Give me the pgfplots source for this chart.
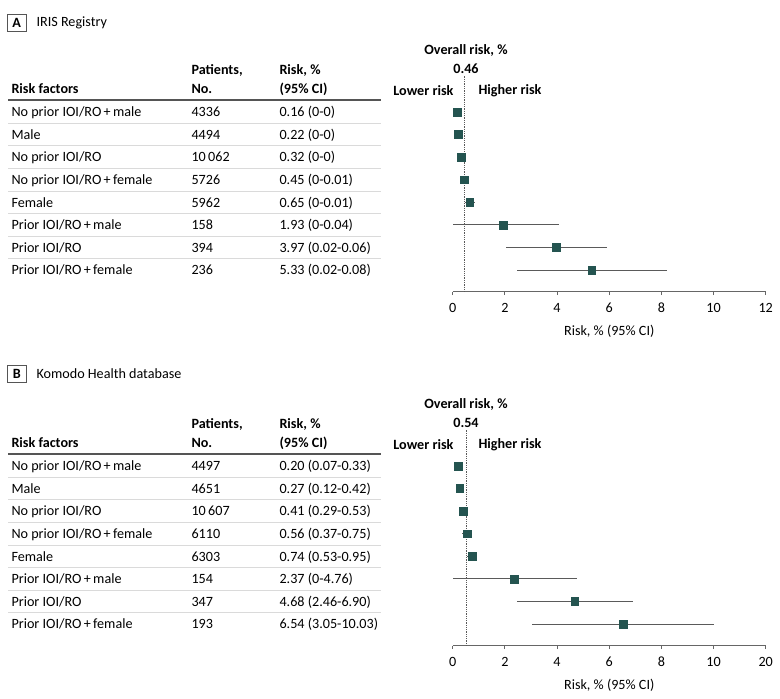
\documentclass[border=0pt]{standalone}
\usepackage{fontspec}
\setmainfont{Carlito}
\usepackage{pgfplots}
\pgfplotsset{compat=1.18}
\usepackage{pgfplotstable}
\definecolor{mk}{HTML}{245450}
\definecolor{rulec}{HTML}{555555}
\definecolor{sepc}{HTML}{DADADA}
\definecolor{cic}{HTML}{5A5A5A}
\newcommand{\fs}{\fontsize{14.2}{17}\selectfont}

\pgfplotstableread{
x y em ep
0.16 -1 0.07 0.07
0.22 -2 0.08 0.08
0.32 -3 0.10 0.10
0.45 -4 0.14 0.19
0.65 -5 0.17 0.20
1.93 -6 1.93 2.15
3.97 -7 1.93 1.93
5.33 -8 2.85 2.87
}\dataA

\pgfplotstableread{
x y em ep
0.20 -1 0.13 0.13
0.27 -2 0.15 0.15
0.41 -3 0.12 0.12
0.56 -4 0.19 0.19
0.74 -5 0.21 0.21
2.37 -6 2.37 2.39
4.68 -7 2.22 2.22
6.54 -8 3.49 3.49
}\dataB

\pgfplotsset{forest/.style={
  scale only axis, width=313bp, height=215.7bp,
  xmin=0, xmax=12, ymin=-8.962, ymax=0.595,
  axis y line=none, axis x line*=bottom,
  x axis line style={color=gray!80!black, line width=0.8bp, -},
  xtick={0,2,...,12}, tick align=outside, major tick length=3.5bp,
  tick style={color=gray!80!black, line width=0.8bp},
  ticklabel style={font=\fs, yshift=-4.5bp},
  /pgf/number format/assume math mode=true,
  xlabel={Risk, \% (95\% CI)}, xlabel style={font=\fs, yshift=-5bp},
  clip=false}}

% #1 offset, #2 index, #3 label, #4 n, #5 risk
\newcommand{\trow}[5]{%
  \path (8,{#1+112+22.6*(#2-1)+4.8}) node[anchor=base west]{#3}
        (188,{#1+112+22.6*(#2-1)+4.8}) node[anchor=base west]{#4}
        (276,{#1+112+22.6*(#2-1)+4.8}) node[anchor=base west]{#5};}

% #1 offset, #2 title y, #3 letter, #4 title, #5 overall
\newcommand{\phead}[5]{%
  \draw[line width=0.7bp, color=rulec] (7.5,{#2-8.8}) rectangle (26,{#2+8.8});
  \node[font=\fs\bfseries] at (16.75,#2) {#3};
  \node[anchor=west] at (33,#2) {#4};
  \node[anchor=base west, font=\fs\bfseries] at (188,{#1+74.5}) {Patients,};
  \node[anchor=base west, font=\fs\bfseries] at (188,{#1+93.3}) {No.};
  \node[anchor=base west, font=\fs\bfseries] at (276,{#1+74.5}) {Risk, \%};
  \node[anchor=base west, font=\fs\bfseries] at (276,{#1+93.3}) {(95\% CI)};
  \node[anchor=base west, font=\fs\bfseries] at (8,{#1+93.3}) {Risk factors};
  \draw[line width=1.3bp, color=rulec] (8,{#1+100}) -- (381,{#1+100});
  \foreach \k in {1,...,7} {\draw[line width=0.8bp, color=sepc] (8,{#1+112+22.6*(\k-0.5)}) -- (381,{#1+112+22.6*(\k-0.5)});}
  \node[font=\fs\bfseries] at (466,{#1+50.7}) {Overall risk, \%};
  \node[font=\fs\bfseries] at (466,{#1+68.5}) {#5};
  \node[anchor=east, font=\fs\bfseries] at (457,{#1+91}) {Lower risk};
  \node[anchor=west, font=\fs\bfseries] at (475,{#1+91}) {Higher risk};
}

\begin{document}
\begin{tikzpicture}[x=1bp,y=1bp,font=\fs]
\useasboundingbox (0,0) rectangle (780,699);
\begin{scope}[yshift=699bp,y=-1bp]
\phead{0}{23}{A}{IRIS Registry}{0.46}
\trow{0}{1}{No prior IOI/RO\,+\,male}{4336}{0.16 (0-0)}
\trow{0}{2}{Male}{4494}{0.22 (0-0)}
\trow{0}{3}{No prior IOI/RO}{10\,062}{0.32 (0-0)}
\trow{0}{4}{No prior IOI/RO\,+\,female}{5726}{0.45 (0-0.01)}
\trow{0}{5}{Female}{5962}{0.65 (0-0.01)}
\trow{0}{6}{Prior IOI/RO\,+\,male}{158}{1.93 (0-0.04)}
\trow{0}{7}{Prior IOI/RO}{394}{3.97 (0.02-0.06)}
\trow{0}{8}{Prior IOI/RO\,+\,female}{236}{5.33 (0.02-0.08)}
\phead{354}{374}{B}{Komodo Health database}{0.54}
\trow{354}{1}{No prior IOI/RO\,+\,male}{4497}{0.20 (0.07-0.33)}
\trow{354}{2}{Male}{4651}{0.27 (0.12-0.42)}
\trow{354}{3}{No prior IOI/RO}{10\,607}{0.41 (0.29-0.53)}
\trow{354}{4}{No prior IOI/RO\,+\,female}{6110}{0.56 (0.37-0.75)}
\trow{354}{5}{Female}{6303}{0.74 (0.53-0.95)}
\trow{354}{6}{Prior IOI/RO\,+\,male}{154}{2.37 (0-4.76)}
\trow{354}{7}{Prior IOI/RO}{347}{4.68 (2.46-6.90)}
\trow{354}{8}{Prior IOI/RO\,+\,female}{193}{6.54 (3.05-10.03)}
\end{scope}

\begin{axis}[forest, at={(452.7bp,407.3bp)}, anchor=south west]
\addplot[densely dotted, line width=0.8bp, color=gray!70!black] coordinates {(0.46,-8.962) (0.46,0.595)};
\addplot[only marks, mark=square*, mark size=3.9bp, mark options={fill=mk, draw=mk},
  error bars/.cd, x dir=both, x explicit, error mark=none,
  error bar style={line width=0.8bp, color=cic}]
  table[x=x, y=y, x error plus=ep, x error minus=em] {\dataA};
\end{axis}

\begin{axis}[forest, at={(452.7bp,53.3bp)}, anchor=south west,
  xticklabels={0,2,4,6,8,10,20}]
\addplot[densely dotted, line width=0.8bp, color=gray!70!black] coordinates {(0.54,-8.962) (0.54,0.595)};
\addplot[only marks, mark=square*, mark size=3.9bp, mark options={fill=mk, draw=mk},
  error bars/.cd, x dir=both, x explicit, error mark=none,
  error bar style={line width=0.8bp, color=cic}]
  table[x=x, y=y, x error plus=ep, x error minus=em] {\dataB};
\end{axis}
\end{tikzpicture}
\end{document}
